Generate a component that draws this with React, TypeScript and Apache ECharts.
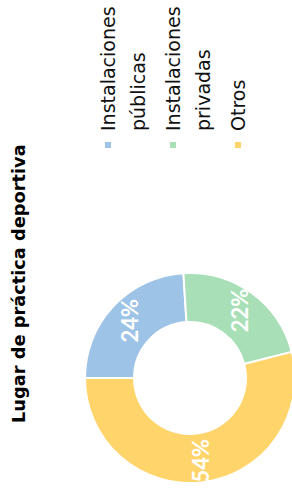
import React, { useEffect, useRef } from "react";
import * as echarts from "echarts";

const title = "Lugar de práctica deportiva";
const categories = ["Instalaciones públicas", "Instalaciones privadas", "Otros"];
const values = [24, 22, 54];
const colors = ["#9dc3e6", "#a8dfb6", "#ffd46b"];

export default function App() {
  const ref = useRef<HTMLDivElement>(null);
  useEffect(() => {
    if (!ref.current) return;
    const chart = echarts.init(ref.current, null, { renderer: "svg" });
    const font = "'DejaVu Sans', sans-serif";
    chart.setOption({
      animation: false,
      backgroundColor: "#ffffff",
      title: {
        text: title,
        left: 71,
        top: 9,
        padding: 0,
        textStyle: { fontFamily: font, fontWeight: "bold", fontSize: 17.8, color: "#000" },
      },
      legend: {
        orient: "vertical",
        left: 344,
        top: 63,
        padding: 0,
        itemWidth: 8,
        itemHeight: 8,
        itemGap: -25,
        icon: "rect",
        formatter: (n: string) => {
          const lines = n.split(" ").map((l) => "{t|" + l + "}");
          return lines.length > 1 ? "\n" + lines.join("\n") : "\n" + lines[0] + "\n";
        },
        textStyle: {
          fontFamily: font,
          fontSize: 19,
          lineHeight: 30,
          color: "#111",
          rich: { t: { fontFamily: font, fontSize: 19, lineHeight: 30, color: "#111", padding: [0, 0, 0, 5] } },
        },
        data: categories,
      },
      series: [
        {
          type: "pie",
          center: [116, 190],
          radius: [56, 105],
          startAngle: 90,
          clockwise: true,
          itemStyle: { borderColor: "#fff", borderWidth: 2 },
          label: {
            show: true,
            position: "inside",
            formatter: "{c}%",
            color: "#fff",
            fontFamily: "Lato, sans-serif",
            fontWeight: "bold",
            fontSize: 22,
          },
          labelLine: { show: false },
          data: categories.map((c, i) => ({ name: c, value: values[i], itemStyle: { color: colors[i] } })),
        },
      ],
    });
    return () => chart.dispose();
  }, []);
  return (
    <div style={{ position: "fixed", left: 0, top: 0, width: 292, height: 494, overflow: "hidden", background: "#fff" }}>
      <div
        style={{
          position: "absolute",
          left: 0,
          top: 0,
          width: 494,
          height: 292,
          transformOrigin: "0 0",
          transform: "translateY(494px) rotate(-90deg)",
        }}
      >
        <div ref={ref} style={{ width: 494, height: 292 }} />
      </div>
    </div>
  );
}
